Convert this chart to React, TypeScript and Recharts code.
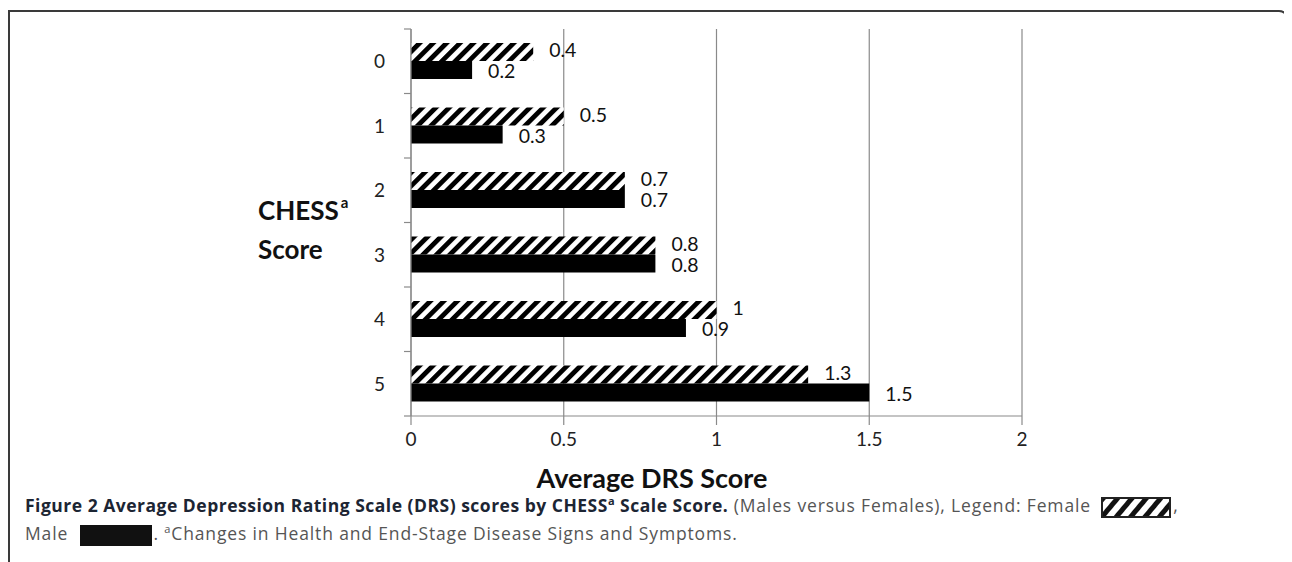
import React from 'react';
import { BarChart, Bar, XAxis, YAxis, CartesianGrid, LabelList } from 'recharts';

const categories = ['0', '1', '2', '3', '4', '5'];
const femaleValues = [0.4, 0.5, 0.7, 0.8, 1, 1.3];
const maleValues = [0.2, 0.3, 0.7, 0.8, 0.9, 1.5];
const xTicks = [0, 0.5, 1, 1.5, 2];
const xTickLabels = ['0', '0.5', '1', '1.5', '2'];

const data = categories.map((c, i) => ({ category: c, female: femaleValues[i], male: maleValues[i] }));

const W = 1100;
const H = 500;
const MARGIN = { top: 21, right: 86, bottom: 20, left: 0 };
const Y_W = 403;
const X_H = 72;
const PLOT_H = H - MARGIN.top - MARGIN.bottom - X_H;
const BAND = PLOT_H / categories.length;
const AXIS_COLOR = '#8a8a8a';
const FONT = 'Lato, "Open Sans", sans-serif';
const Y_TICK_MARGIN = 26;

const YTick = (props: any) => {
  const { x, y, payload, index } = props;
  const axisX = x + Y_TICK_MARGIN;
  return (
    <g>
      <line x1={axisX - 7} x2={axisX} y1={y - BAND / 2} y2={y - BAND / 2} stroke={AXIS_COLOR} strokeWidth={1.2} />
      {index === categories.length - 1 && (
        <line x1={axisX - 7} x2={axisX} y1={y + BAND / 2} y2={y + BAND / 2} stroke={AXIS_COLOR} strokeWidth={1.2} />
      )}
      <text x={x} y={y} dy="0.36em" textAnchor="end" fontFamily={FONT} fontSize={19} fill="#222">
        {payload.value}
      </text>
    </g>
  );
};

const YTitle = () => (
  <g fontFamily={FONT} fontWeight={700} fill="#111">
    <text x={250} y={203} dy="0.36em" fontSize={26}>
      CHESS
      <tspan fontSize={15} dy="-0.8em" dx={2}>a</tspan>
    </text>
    <text x={250} y={242} dy="0.36em" fontSize={26}>
      Score
    </text>
  </g>
);

const XTitle = () => (
  <text x={644} y={470} dy="0.36em" textAnchor="middle" fontFamily={FONT} fontWeight={700} fontSize={27} fill="#111">
    Average DRS Score
  </text>
);

const HatchSwatch = () => (
  <svg width={70} height={21} style={{ verticalAlign: 'middle', margin: '0 2px 0 5px' }}>
    <defs>
      <pattern id="hatchLegend" patternUnits="userSpaceOnUse" width={11} height={11} patternTransform="rotate(40)">
        <rect width={11} height={11} fill="#fff" />
        <rect width={5} height={11} fill="#111" />
      </pattern>
    </defs>
    <rect x={1} y={1} width={68} height={19} fill="url(#hatchLegend)" stroke="#222" strokeWidth={2} />
  </svg>
);

const SUP: React.CSSProperties = { fontSize: 11, verticalAlign: 'super', lineHeight: 0 };

export default function App() {
  return (
    <div style={{ position: 'relative', width: 1284, height: 554 }}>
      <div
        style={{
          position: 'absolute',
          left: 0,
          top: 2,
          width: 1281,
          height: 552,
          borderTop: '2px solid #3a3a3a',
          borderLeft: '2px solid #3a3a3a',
          borderRight: '2px solid #3a3a3a',
          borderTopRightRadius: 10,
          boxSizing: 'border-box',
        }}
      />
      <div style={{ position: 'absolute', left: 0, top: 0 }}>
        <BarChart width={W} height={H} data={data} layout="vertical" margin={MARGIN} barGap={0}>
          <defs>
            <pattern id="hatch" patternUnits="userSpaceOnUse" width={9.5} height={9.5} patternTransform="rotate(45)">
              <rect width={9.5} height={9.5} fill="#fff" />
              <rect width={4.8} height={9.5} fill="#000" />
            </pattern>
          </defs>
          <CartesianGrid horizontal={false} vertical stroke={AXIS_COLOR} strokeWidth={1.2} />
          <XAxis
            type="number"
            domain={[0, 2]}
            ticks={xTicks}
            tickFormatter={(v: number) => xTickLabels[xTicks.indexOf(v)]}
            height={X_H}
            axisLine={{ stroke: AXIS_COLOR, strokeWidth: 1.2 }}
            tickLine={{ stroke: AXIS_COLOR, strokeWidth: 1.2 }}
            tickSize={9}
            tickMargin={8}
            tick={{ fontFamily: FONT, fontSize: 19, fill: '#222' }}
            interval={0}
            label={<XTitle />}
          />
          <YAxis
            type="category"
            dataKey="category"
            width={Y_W}
            axisLine={{ stroke: AXIS_COLOR, strokeWidth: 1.2 }}
            tickLine={false}
            tickSize={0}
            tickMargin={Y_TICK_MARGIN}
            tick={<YTick />}
            interval={0}
            label={<YTitle />}
          />
          <Bar dataKey="female" barSize={18} fill="url(#hatch)" isAnimationActive={false}>
            <LabelList dataKey="female" position="right" offset={16} dy={-1.5} fontFamily={FONT} fontSize={19.5} fill="#111" />
          </Bar>
          <Bar dataKey="male" barSize={18} fill="#000" isAnimationActive={false}>
            <LabelList dataKey="male" position="right" offset={16} dy={1.5} fontFamily={FONT} fontSize={19.5} fill="#111" />
          </Bar>
        </BarChart>
      </div>
      <div
        style={{
          position: 'absolute',
          left: 17,
          top: 483,
          fontFamily: '"Open Sans", sans-serif',
          fontSize: 17.5,
          lineHeight: '28px',
          color: '#555',
          whiteSpace: 'nowrap',
          letterSpacing: 0.85,
        }}
      >
        <span style={{ fontWeight: 700, color: '#1c2533', letterSpacing: 0.5 }}>
          Figure 2 Average Depression Rating Scale (DRS) scores by CHESS
          <span style={SUP}>a</span> Scale Score.
        </span>{' '}
        (Males versus Females), Legend: Female <HatchSwatch />,
        <br />
        Male{' '}
        <span
          style={{
            display: 'inline-block',
            width: 72,
            height: 21,
            background: '#111',
            verticalAlign: 'middle',
            margin: '0 2px 0 6px',
          }}
        />
        . <span style={SUP}>a</span>Changes in Health and End-Stage Disease Signs and Symptoms.
      </div>
    </div>
  );
}
